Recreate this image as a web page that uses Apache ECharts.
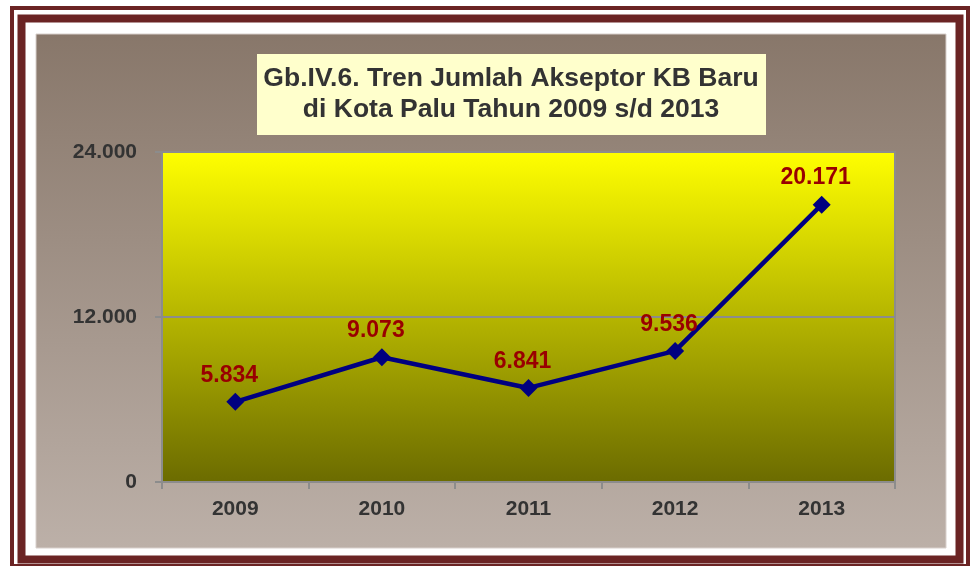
<!DOCTYPE html>
<html lang="id">
<head>
    <meta charset="UTF-8">
    <title>Tren Jumlah Akseptor KB Baru</title>
    <style>
        html, body { margin: 0; padding: 0; background: #ffffff; }
        #container { width: 970px; height: 566px; }
    </style>
</head>
<body>
<div id="container"></div>

<script type="text/javascript" src="https://cdn.jsdelivr.net/npm/echarts@6/dist/echarts.min.js"></script>
<script type="text/javascript">
    // data dari grafik
    var tahun = ['2009', '2010', '2011', '2012', '2013'];
    var akseptor = [5834, 9073, 6841, 9536, 20171];
    var yTicks = [0, 12000, 24000];

    var judul = 'Gb.IV.6. Tren Jumlah Akseptor KB Baru\ndi Kota Palu Tahun 2009 s/d 2013';

    // format angka pakai titik ribuan
    function formatAngka(v) {
        return String(v).replace(/\B(?=(\d{3})+(?!\d))/g, '.');
    }

    var dom = document.getElementById('container');
    var myChart = echarts.init(dom, null, { renderer: 'canvas' });

    var option = {
        backgroundColor: '#ffffff',
        animation: false,
        textStyle: { fontFamily: 'Liberation Sans, Arial, sans-serif' },
        graphic: [
            // bingkai luar
            { type: 'rect', z: -20, shape: { x: 12, y: 8, width: 956, height: 558 },
              style: { fill: 'none', stroke: '#6B2424', lineWidth: 4 } },
            { type: 'rect', z: -20, shape: { x: 21.5, y: 18.5, width: 938, height: 541 },
              style: { fill: 'none', stroke: '#6B2424', lineWidth: 8 } },
            // latar area grafik
            { type: 'rect', z: -15, shape: { x: 36, y: 34, width: 910, height: 514 },
              style: {
                  fill: new echarts.graphic.LinearGradient(0, 0, 0, 1, [
                      { offset: 0, color: '#88776A' },
                      { offset: 1, color: '#BCB0A8' }
                  ]),
                  stroke: '#D8D0CC', lineWidth: 1
              } },
            // kotak judul
            { type: 'rect', z: -5, shape: { x: 257, y: 54, width: 509, height: 81 },
              style: { fill: '#FFFFCC' } },
            { type: 'text', z: 10, x: 511, y: 63,
              style: {
                  text: judul,
                  fill: '#333333',
                  font: 'bold 26.5px "Liberation Sans", Arial, sans-serif',
                  lineHeight: 31, align: 'center', verticalAlign: 'top'
              } }
        ],
        grid: {
            left: 162, right: 75, top: 152, bottom: 84,
            show: true,
            borderColor: '#8C8C8C',
            borderWidth: 2,
            backgroundColor: new echarts.graphic.LinearGradient(0, 0, 0, 1, [
                { offset: 0, color: '#FFFF00' },
                { offset: 1, color: '#6B6B00' }
            ])
        },
        xAxis: {
            type: 'category',
            data: tahun,
            boundaryGap: true,
            axisLine: { lineStyle: { color: '#8C8C8C', width: 2 } },
            axisTick: { show: true, length: 7, lineStyle: { color: '#8C8C8C', width: 2 } },
            axisLabel: { color: '#333333', fontWeight: 'bold', fontSize: 21, margin: 17 },
            splitLine: { show: false }
        },
        yAxis: {
            type: 'value',
            min: yTicks[0],
            max: yTicks[yTicks.length - 1],
            interval: yTicks[1] - yTicks[0],
            axisLine: { show: true, lineStyle: { color: '#8C8C8C', width: 2 } },
            axisTick: { show: true, length: 7, lineStyle: { color: '#8C8C8C', width: 2 } },
            axisLabel: {
                color: '#333333', fontWeight: 'bold', fontSize: 21, margin: 25,
                formatter: function (v) { return formatAngka(v); }
            },
            splitLine: { show: true, lineStyle: { color: '#8C8C8C', width: 2 } }
        },
        series: [
            {
                type: 'line',
                data: akseptor,
                symbol: 'diamond',
                symbolSize: 18,
                itemStyle: { color: '#000080' },
                lineStyle: { color: '#000080', width: 4.5 },
                label: {
                    show: true,
                    position: 'top',
                    distance: 6,
                    offset: [-6, 0],
                    color: '#990000',
                    fontWeight: 'bold',
                    fontSize: 23,
                    formatter: function (p) { return formatAngka(p.value); }
                }
            }
        ]
    };

    myChart.setOption(option);
    window.addEventListener('resize', myChart.resize);
</script>
</body>
</html>
